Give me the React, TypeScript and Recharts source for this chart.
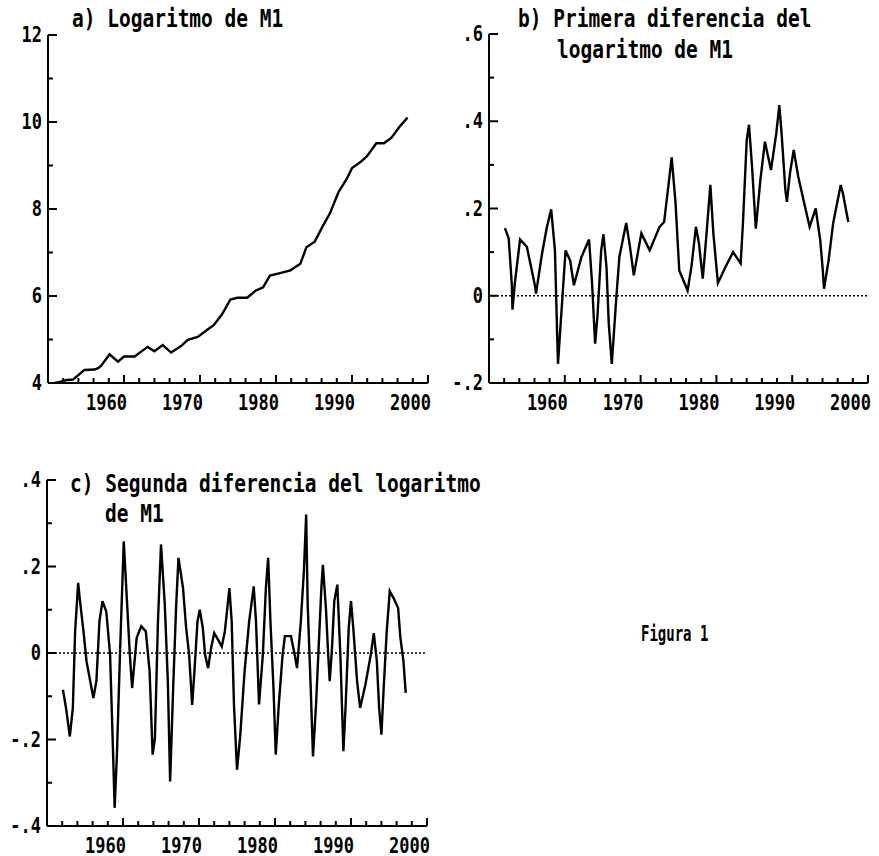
import React from "react";
import { LineChart, Line, XAxis, YAxis, ReferenceLine } from "recharts";

const FONT = '"DejaVu Sans Mono", "Liberation Mono", monospace';

// axis ticks
const yearTicks = [
  1950, 1952, 1954, 1956, 1958, 1960, 1962, 1964, 1966, 1968, 1970, 1972, 1974, 1976, 1978,
  1980, 1982, 1984, 1986, 1988, 1990, 1992, 1994, 1996, 1998, 2000,
];
const levelTicks = [4, 5, 6, 7, 8, 9, 10, 11, 12];
const diff1Ticks = [-0.2, -0.1, 0, 0.1, 0.2, 0.3, 0.4, 0.5, 0.6];
const diff2Ticks = [-0.4, -0.3, -0.2, -0.1, 0, 0.1, 0.2, 0.3, 0.4];

// a) log of M1
const levelYears = [
  1950.9, 1951.7, 1952.5, 1953.3, 1954.8, 1956.1, 1956.6, 1957.0, 1958.1, 1959.2, 1960.0, 1961.4,
  1963.1, 1964.0, 1965.1, 1966.2, 1967.5, 1968.4, 1969.7, 1971.0, 1971.8, 1972.9, 1974.0, 1974.9,
  1976.2, 1977.3, 1978.3, 1979.2, 1980.4, 1981.9, 1983.2, 1984.0, 1985.1, 1986.1, 1987.1, 1988.2,
  1989.3, 1990.0, 1991.2, 1992.0, 1993.2, 1994.2, 1995.2, 1996.2, 1997.3,
];
const levelValues = [
  4.0, 4.03, 4.07, 4.08, 4.3, 4.31, 4.34, 4.4, 4.66, 4.49, 4.61, 4.61,
  4.83, 4.73, 4.87, 4.7, 4.85, 4.99, 5.06, 5.23, 5.33, 5.58, 5.92, 5.96,
  5.96, 6.12, 6.2, 6.47, 6.52, 6.59, 6.74, 7.12, 7.25, 7.59, 7.9, 8.38,
  8.69, 8.94, 9.09, 9.22, 9.51, 9.51, 9.64, 9.88, 10.1,
];

// b) first difference
const diff1Years = [
  1952.1, 1952.6, 1953.0, 1953.1, 1953.4, 1954.1, 1955.0, 1956.1, 1956.2, 1957.0, 1957.6, 1958.2,
  1958.7, 1959.0, 1959.1, 1959.6, 1960.1, 1960.7, 1961.2, 1962.2, 1963.2, 1963.6, 1964.0, 1964.3,
  1964.8, 1965.1, 1965.5, 1965.8, 1966.2, 1966.8, 1967.2, 1968.1, 1968.6, 1969.1, 1970.1, 1971.2,
  1972.5, 1973.1, 1973.7, 1974.1, 1974.6, 1975.1, 1976.2, 1976.7, 1977.3, 1977.7, 1978.2, 1978.7,
  1979.2, 1979.6, 1980.2, 1981.2, 1982.2, 1983.2, 1983.5, 1984.0, 1984.3, 1984.7, 1985.2, 1985.8,
  1986.4, 1987.2, 1987.9, 1988.3, 1988.6, 1989.1, 1989.3, 1989.7, 1990.2, 1990.8, 1991.6, 1992.3,
  1993.1, 1993.7, 1994.0, 1994.2, 1994.8, 1995.4, 1996.4, 1996.7, 1997.4,
];
const diff1Values = [
  0.155, 0.131, 0.028, -0.032, 0.028, 0.129, 0.112, 0.02, 0.005, 0.097, 0.154, 0.198,
  0.104, -0.095, -0.156, -0.026, 0.104, 0.081, 0.024, 0.089, 0.129, 0.028, -0.11, -0.049,
  0.104, 0.141, 0.066, -0.064, -0.156, -0.003, 0.089, 0.167, 0.112, 0.047, 0.143, 0.104,
  0.158, 0.169, 0.257, 0.317, 0.215, 0.058, 0.012, 0.066, 0.158, 0.12, 0.039, 0.143,
  0.254, 0.143, 0.029, 0.066, 0.1, 0.074, 0.166, 0.357, 0.392, 0.296, 0.154, 0.265,
  0.353, 0.288, 0.372, 0.437, 0.372, 0.242, 0.215, 0.28, 0.334, 0.273, 0.211, 0.158,
  0.2, 0.127, 0.066, 0.016, 0.081, 0.166, 0.254, 0.234, 0.169,
];

// c) second difference
const diff2Years = [
  1952.1, 1952.5, 1953.0, 1953.4, 1953.7, 1954.1, 1954.3, 1954.8, 1955.2, 1956.1, 1956.5, 1956.9,
  1957.3, 1957.8, 1958.3, 1958.7, 1958.9, 1959.2, 1959.6, 1960.1, 1960.5, 1960.9, 1961.2, 1961.8,
  1962.4, 1963.0, 1963.5, 1963.9, 1964.2, 1964.6, 1965.0, 1965.5, 1965.9, 1966.2, 1966.6, 1967.0,
  1967.3, 1967.9, 1968.3, 1968.7, 1969.1, 1969.4, 1969.8, 1970.1, 1970.5, 1970.8, 1971.2, 1971.6,
  1972.0, 1972.5, 1973.0, 1973.4, 1974.0, 1974.3, 1974.6, 1975.0, 1975.4, 1976.0, 1976.6, 1977.2,
  1977.5, 1977.9, 1978.4, 1978.8, 1979.1, 1979.4, 1979.8, 1980.1, 1980.5, 1981.0, 1981.3, 1982.1,
  1982.5, 1982.9, 1983.4, 1983.8, 1984.1, 1984.3, 1984.7, 1985.0, 1985.4, 1985.8, 1986.1, 1986.3,
  1986.7, 1987.0, 1987.2, 1987.5, 1987.8, 1988.2, 1988.6, 1989.0, 1989.3, 1989.7, 1990.0, 1990.3,
  1990.8, 1991.2, 1991.9, 1992.6, 1993.0, 1993.4, 1993.7, 1994.0, 1994.3, 1994.7, 1995.1, 1995.6,
  1996.2, 1996.5, 1996.9, 1997.2,
];
const diff2Values = [
  -0.085, -0.127, -0.193, -0.127, 0.05, 0.162, 0.127, 0.05, -0.019, -0.104, -0.065, 0.073,
  0.12, 0.096, -0.004, -0.235, -0.358, -0.235, -0.004, 0.258, 0.127, -0.004, -0.081, 0.035,
  0.062, 0.05, -0.042, -0.235, -0.197, 0.073, 0.251, 0.112, -0.065, -0.297, -0.081, 0.112,
  0.22, 0.15, 0.06, -0.004, -0.12, -0.042, 0.073, 0.1, 0.058, -0.004, -0.035, 0.012,
  0.046, 0.031, 0.015, 0.05, 0.15, 0.073, -0.119, -0.27, -0.197, -0.042, 0.073, 0.154,
  0.073, -0.119, -0.004, 0.15, 0.22, 0.073, -0.081, -0.235, -0.119, -0.004, 0.039, 0.039,
  0.004, -0.035, 0.073, 0.189, 0.32, 0.112, -0.081, -0.239, -0.119, 0.035, 0.15, 0.204,
  0.104, -0.004, -0.065, 0.012, 0.12, 0.158, -0.004, -0.227, -0.119, 0.058, 0.12, 0.058,
  -0.065, -0.127, -0.073, -0.004, 0.046, -0.019, -0.127, -0.189, -0.081, 0.05, 0.143, 0.127,
  0.104, 0.035, -0.019, -0.092,
];

const toRows = (years: number[], values: number[]) =>
  years.map((year, i) => ({ year, value: values[i] }));

const axisStyle = { stroke: "#000", strokeWidth: 2 };

function XTick(props: any) {
  const { x, y, payload } = props;
  const v = payload.value;
  const major = v % 10 === 0;
  return (
    <g>
      <line x1={x} y1={y} x2={x} y2={y - (major ? 8 : 5)} stroke="#000" strokeWidth={2} />
      {major && v > 1950 && (
        <text
          transform={`translate(${x + 3},${y + 27}) scale(1,1.2)`}
          textAnchor="end"
          fontFamily={FONT}
          fontWeight="bold"
          fontSize={17}
          fill="#000"
        >
          {v}
        </text>
      )}
    </g>
  );
}

const makeYTick = (isMajor: (v: number) => boolean, fmt: (v: number) => string) =>
  function YTick(props: any) {
    const { x, y, payload } = props;
    const v = payload.value;
    const major = isMajor(v);
    return (
      <g>
        <line x1={x} y1={y} x2={x + (major ? 9 : 5)} y2={y} stroke="#000" strokeWidth={2} />
        {major && (
          <text
            transform={`translate(${x - 6},${y + 7}) scale(1,1.2)`}
            textAnchor="end"
            fontFamily={FONT}
            fontWeight="bold"
            fontSize={17}
            fill="#000"
          >
            {fmt(v)}
          </text>
        )}
      </g>
    );
  };

const fmtDecimal = (v: number) => {
  const n = Math.round(Math.abs(v) * 10);
  if (n === 0) return "0";
  return (v < 0 ? "-" : "") + "." + n;
};
const evenTenth = (v: number) => Math.round(Math.abs(v) * 10) % 2 === 0;

const LevelTick = makeYTick((v) => v % 2 === 0, (v) => String(v));
const Diff1Tick = makeYTick(evenTenth, fmtDecimal);
const Diff2Tick = makeYTick(evenTenth, fmtDecimal);

function Title({ x, y, size = 19.5, sy = 1.3, children }: any) {
  return (
    <text
      transform={`translate(${x},${y}) scale(1,${sy})`}
      fontFamily={FONT}
      fontWeight="bold"
      fontSize={size}
      fill="#000"
    >
      {children}
    </text>
  );
}

export default function App() {
  return (
    <div style={{ position: "absolute", left: 0, top: 0, width: 879, height: 856, background: "#fff" }}>
      <div style={{ position: "absolute", left: 0, top: 0 }}>
        <LineChart width={440} height={420} data={toRows(levelYears, levelValues)} margin={{ top: 35, right: 12, bottom: 0, left: 0 }}>
          <XAxis type="number" dataKey="year" domain={[1950, 2000]} ticks={yearTicks} interval={0} height={37}
            tickSize={0} tickMargin={0} tickLine={false} axisLine={axisStyle} tick={XTick} allowDataOverflow />
          <YAxis type="number" domain={[4, 12]} ticks={levelTicks} interval={0} width={48}
            tickSize={0} tickMargin={0} tickLine={false} axisLine={axisStyle} tick={LevelTick} allowDataOverflow />
          <Line type="linear" dataKey="value" stroke="#000" strokeWidth={2.4} dot={false} isAnimationActive={false} />
        </LineChart>
      </div>

      <div style={{ position: "absolute", left: 440, top: 0 }}>
        <LineChart width={439} height={420} data={toRows(diff1Years, diff1Values)} margin={{ top: 34, right: 11, bottom: 0, left: 0 }}>
          <XAxis type="number" dataKey="year" domain={[1950, 2000]} ticks={yearTicks} interval={0} height={37}
            tickSize={0} tickMargin={0} tickLine={false} axisLine={axisStyle} tick={XTick} allowDataOverflow />
          <YAxis type="number" domain={[-0.2, 0.6]} ticks={diff1Ticks} interval={0} width={49}
            tickSize={0} tickMargin={0} tickLine={false} axisLine={axisStyle} tick={Diff1Tick} allowDataOverflow />
          <ReferenceLine y={0} stroke="#000" strokeWidth={1.5} strokeDasharray="2 2" />
          <Line type="linear" dataKey="value" stroke="#000" strokeWidth={2.4} dot={false} isAnimationActive={false} />
        </LineChart>
      </div>

      <div style={{ position: "absolute", left: 0, top: 440 }}>
        <LineChart width={440} height={416} data={toRows(diff2Years, diff2Values)} margin={{ top: 40, right: 13, bottom: 0, left: 0 }}>
          <XAxis type="number" dataKey="year" domain={[1950, 2000]} ticks={yearTicks} interval={0} height={30}
            tickSize={0} tickMargin={0} tickLine={false} axisLine={axisStyle} tick={XTick} allowDataOverflow />
          <YAxis type="number" domain={[-0.4, 0.4]} ticks={diff2Ticks} interval={0} width={47}
            tickSize={0} tickMargin={0} tickLine={false} axisLine={axisStyle} tick={Diff2Tick} allowDataOverflow />
          <ReferenceLine y={0} stroke="#000" strokeWidth={1.5} strokeDasharray="2 2" />
          <Line type="linear" dataKey="value" stroke="#000" strokeWidth={2.4} dot={false} isAnimationActive={false} />
        </LineChart>
      </div>

      <svg width={879} height={856} style={{ position: "absolute", left: 0, top: 0, pointerEvents: "none" }}>
        <Title x={72} y={27}>a) Logaritmo de M1</Title>
        <Title x={518} y={27}>b) Primera diferencia del</Title>
        <Title x={557} y={58}>logaritmo de M1</Title>
        <Title x={70} y={492}>c) Segunda diferencia del logaritmo</Title>
        <Title x={105} y={522}>de M1</Title>
        <Title x={641} y={641} size={14} sy={1.55}>Figura 1</Title>
      </svg>
    </div>
  );
}
